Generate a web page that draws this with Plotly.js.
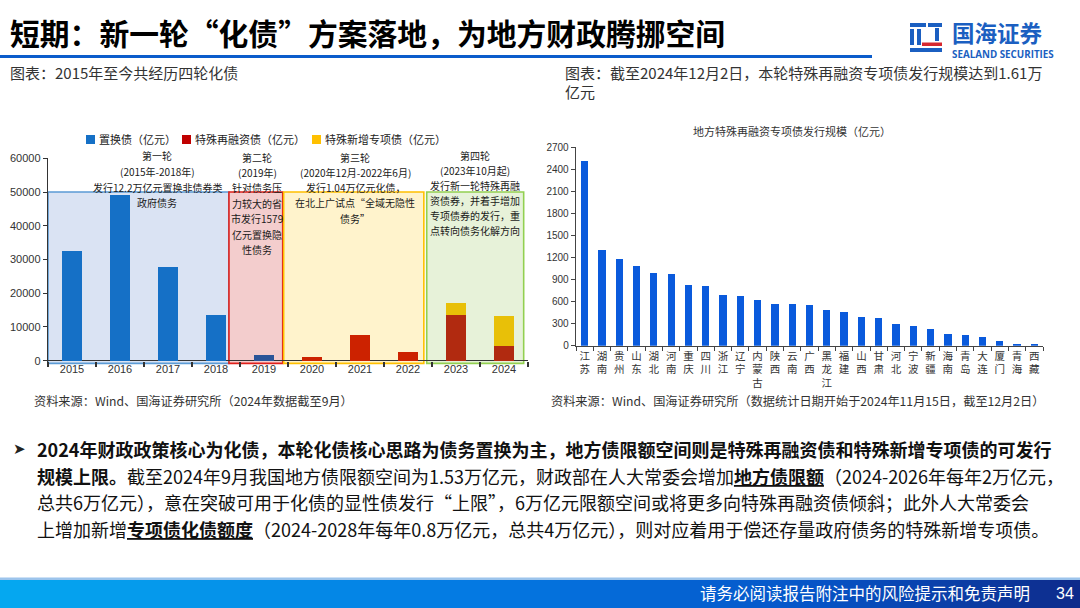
<!DOCTYPE html>
<html><head><meta charset="utf-8">
<script src="https://cdn.plot.ly/plotly-3.0.1.min.js"></script>
<style>html,body{margin:0;padding:0;background:#fff}#chart{width:1080px;height:608px}</style>
</head><body><div id="chart"></div>
<script>
// ---------------- data ----------------
const years = ['2015','2016','2017','2018','2019','2020','2021','2022','2023','2024'];
const swapBond = [32600, 49100, 27800, 13700, 1579, null, null, null, null, null];
const refinBond = [null, null, null, null, null, 1100, 7500, 2500, 13700, 4400];
const newSpecialBond = [null, null, null, null, null, null, null, null, 3300, 9000];
const seriesNames = ['置换债（亿元）', '特殊再融资债（亿元）', '特殊新增专项债（亿元）'];
const leftTicks = [0, 10000, 20000, 30000, 40000, 50000, 60000];

const provinces = ['江苏','湖南','贵州','山东','湖北','河南','重庆','四川','浙江','辽宁','内蒙古','陕西','云南','广西','黑龙江','福建','山西','甘肃','河北','宁波','新疆','海南','青岛','大连','厦门','青海','西藏'];
const refinIssue = [2520, 1300, 1180, 1090, 990, 975, 830, 810, 686, 673, 618, 573, 564, 555, 491, 455, 391, 377, 291, 264, 223, 159, 150, 114, 64, 23, 20];
const rightTicks = [0, 300, 600, 900, 1200, 1500, 1800, 2100, 2400, 2700];

const roundTexts = [
  ['第一轮', '(2015年-2018年)', '发行12.2万亿元置换非债券类', '政府债务'],
  ['第二轮', '(2019年)', '针对债务压', '力较大的省', '市发行1579', '亿元置换隐', '性债务'],
  ['第三轮', '(2020年12月-2022年6月)', '发行1.04万亿元化债，', '在北上广试点“全域无隐性', '债务”'],
  ['第四轮', '(2023年10月起)', '发行新一轮特殊再融', '资债券，并着手增加', '专项债券的发行，重', '点转向债务化解方向']
];

const W = 1080, H = 608;
const px = v => v / W;
const py = v => 1 - v / H;
const CJK = '"Noto Sans CJK SC", "Noto Sans", sans-serif';
const ARIAL = '"Liberation Sans", Arial, sans-serif';

// bar colours (per bar shading as in reference)
const swapColors = ['#1570C6','#1570C6','#1570C6','#1570C6','#2B5598','#1570C6','#1570C6','#1570C6','#1570C6','#1570C6'];
const refinColors = ['#C8200A','#C8200A','#C8200A','#C8200A','#C8200A','#CC2200','#CC2200','#CC2200','#B12A10','#B12A10'];

const traces = [
  {type:'bar', x: years, y: swapBond, name: seriesNames[0], xaxis:'x', yaxis:'y',
   marker:{color: swapColors, line:{width:0}}},
  {type:'bar', x: years, y: refinBond, name: seriesNames[1], xaxis:'x', yaxis:'y',
   marker:{color: refinColors, line:{width:0}}},
  {type:'bar', x: years, y: newSpecialBond, name: seriesNames[2], xaxis:'x', yaxis:'y',
   marker:{color:'#E8C008', line:{width:0}}},
  {type:'bar', x: provinces, y: refinIssue, name:'地方特殊再融资专项债发行规模（亿元）', xaxis:'x2', yaxis:'y2',
   width:0.42, marker:{color:'#0A5ADC', line:{width:0}}}
];

// ---------------- decorations ----------------
const shapes = [];
// blue line under title
shapes.push({type:'rect', xref:'paper', yref:'paper', x0:0, x1:px(872), y0:py(58), y1:py(55), fillcolor:'#0B5CCB', line:{width:0}});
// logo
const logoBlue = '#1B5FC1', logoRed = '#D7282F';
[[910,926,23,27],[910,914,29,45],[917,921,29,45],[928,942,23,27],[935,939,28,41],[910,942,48,52]].forEach(r=>{
  shapes.push({type:'rect', xref:'paper', yref:'paper', x0:px(r[0]), x1:px(r[1]), y0:py(r[3]), y1:py(r[2]), fillcolor:logoBlue, line:{width:0}});
});
shapes.push({type:'rect', xref:'paper', yref:'paper', x0:px(922), x1:px(942), y0:py(46), y1:py(42.5), fillcolor:logoRed, line:{width:0}});

// round boxes on left chart (category index units)
const boxes = [
  {x0:-0.5, x1:3.27, fill:'#DAE3F3', line:'#5B9BD5'},
  {x0:3.27, x1:4.39, fill:'#F3CDCD', line:'#E0201B'},
  {x0:4.41, x1:7.33, fill:'#FFF3CC', line:'#FFC000'},
  {x0:7.39, x1:9.41, fill:'#E7F2D9', line:'#92D050'}
];
boxes.forEach(b=>{
  shapes.push({type:'rect', xref:'x', yref:'y', x0:b.x0, x1:b.x1, y0:-800, y1:50000, fillcolor:b.fill,
    line:{color:b.line, width:1.6}, layer:'below'});
});

// footer gradient strips
function hex(c){return [parseInt(c.slice(1,3),16),parseInt(c.slice(3,5),16),parseInt(c.slice(5,7),16)];}
const stops = [[0,'#05A8F0'],[0.45,'#0478E2'],[0.75,'#0655C8'],[1,'#0E2A8A']];
function grad(t){
  for(let i=0;i<stops.length-1;i++){
    if(t>=stops[i][0] && t<=stops[i+1][0]){
      const f=(t-stops[i][0])/(stops[i+1][0]-stops[i][0]);
      const a=hex(stops[i][1]), b=hex(stops[i+1][1]);
      return 'rgb('+a.map((v,k)=>Math.round(v+(b[k]-v)*f)).join(',')+')';
    }
  }
  return stops[stops.length-1][1];
}
const N = 108;
for(let i=0;i<N;i++){
  shapes.push({type:'rect', xref:'paper', yref:'paper', x0:i/N, x1:Math.min(1,(i+1.3)/N), y0:0, y1:py(579),
    fillcolor:grad((i+0.5)/N), line:{width:0}});
}
shapes.push({type:'rect', xref:'paper', yref:'paper', x0:0, x1:1, y0:py(580), y1:py(577.5), fillcolor:'#9CC4EC', line:{width:0}});

// left chart manual legend squares
const legendSq = [[86,'#1570C6'],[182,'#C00000'],[312,'#FFC000']];
const legendTx = [97, 193, 323];
legendSq.forEach(s=>{
  shapes.push({type:'rect', xref:'paper', yref:'paper', x0:px(s[0]), x1:px(s[0]+9), y0:py(144), y1:py(135), fillcolor:s[1], line:{width:0}});
});

// ---------------- annotations ----------------
const ann = [];
function T(text, x, y, size, opts){
  opts = opts || {};
  ann.push(Object.assign({xref:'paper', yref:'paper', x:px(x), y:py(y), text:text, showarrow:false,
    xanchor: opts.xanchor || 'left', yanchor:'middle', align: opts.align || 'left',
    font:{family: opts.family || CJK, size:size, color: opts.color || '#111', weight: opts.weight || 400}}, opts.extra || {}));
}
T('短期：新一轮“化债”方案落地，为地方财政腾挪空间', 8, 32, 29.8, {weight:700, color:'#000'});
T('国海证券', 950, 32.5, 22.5, {weight:700, color:'#1B5FC1'});
T('SEALAND SECURITIES', 950, 54.5, 9.8, {weight:700, color:'#1B5FC1', family:'"Open Sans", sans-serif'});

T('图表：2015年至今共经历四轮化债', 8, 73, 15, {color:'#333'});
T('图表：截至2024年12月2日，本轮特殊再融资专项债发行规模达到1.61万', 563, 73, 15, {color:'#333'});
T('亿元', 563, 92, 15, {color:'#333'});

// legend texts
seriesNames.forEach((n,i)=> T(n, legendTx[i], 139.5, 11, {color:'#222'}));

// round texts
const roundCenters = [157, 257, 355, 475];
const roundStart = [156, 157, 157, 155.5];
const roundStep = [15.5, 15.4, 15.3, 15.0];
roundTexts.forEach((lines,r)=>{
  lines.forEach((l,i)=> T(l, roundCenters[r], roundStart[r]+i*roundStep[r], 10, {xanchor:'center', color:'#1a1a1a'}));
});

T('地方特殊再融资专项债发行规模（亿元）', 792, 131, 11, {xanchor:'center', color:'#333'});

T('资料来源：Wind、国海证券研究所（2024年数据截至9月）', 32, 401, 12.2, {color:'#333'});
T('资料来源：Wind、国海证券研究所（数据统计日期开始于2024年11月15日，截至12月2日）', 549, 401, 12.2, {color:'#333'});

// bullet paragraph
T('➤', 11, 449, 15, {family:'"DejaVu Sans", sans-serif', color:'#222'});
const para = [
  '<b>2024年财政政策核心为化债，本轮化债核心思路为债务置换为主，地方债限额空间则是特殊再融资债和特殊新增专项债的可发行</b>',
  '<b>规模上限。</b>截至2024年9月我国地方债限额空间为1.53万亿元，财政部在人大常委会增加<b><u>地方债限额</u></b>（2024-2026年每年2万亿元，',
  '总共6万亿元），意在突破可用于化债的显性债发行“上限”，6万亿元限额空间或将更多向特殊再融资债倾斜；此外人大常委会',
  '上增加新增<b><u>专项债化债额度</u></b>（2024-2028年每年0.8万亿元，总共4万亿元），则对应着用于偿还存量政府债务的特殊新增专项债。'
];
const paraY = [449, 476, 502, 529];
para.forEach((p,i)=> T(p, 35, paraY[i], 18, {color:'#111'}));

T('请务必阅读报告附注中的风险提示和免责声明', 1032, 593, 16.5, {xanchor:'right', color:'#fff'});
T('34', 1054, 593, 16, {color:'#fff', family:ARIAL});

// ---------------- layout ----------------
const layout = {
  width: W, height: H,
  margin:{l:0, r:0, t:0, b:0, pad:0},
  paper_bgcolor:'#ffffff', plot_bgcolor:'rgba(0,0,0,0)',
  showlegend:false,
  barmode:'stack',
  bargap:0.57,
  xaxis:{domain:[px(48), px(528)], type:'category', range:[-0.5, 9.5], anchor:'free', position: py(360.7),
    showline:false, ticks:'outside', tickson:'boundaries', ticklen:5, tickcolor:'#333', tickwidth:1.2,
    tickangle:0, tickfont:{family:ARIAL, size:11, color:'#333'}, showgrid:false, zeroline:false, fixedrange:true},
  yaxis:{domain:[py(365.1), py(158.3)], range:[-1300, 60000], anchor:'x', tickvals:leftTicks, tickformat:'d',
    showline:true, linecolor:'#333', linewidth:1.3, ticks:'outside', ticklen:4, tickcolor:'#333',
    tickfont:{family:ARIAL, size:11, color:'#333'}, showgrid:false,
    zeroline:true, zerolinecolor:'#333', zerolinewidth:1.5, fixedrange:true},
  xaxis2:{domain:[px(576), px(1043)], type:'category', range:[-0.5, 26.5], anchor:'y2',
    showline:true, linecolor:'#444', linewidth:1.3, ticks:'outside', tickson:'boundaries', ticklen:4, tickcolor:'#444',
    tickangle:0, tickvals: provinces, ticktext: provinces.map(p=>p.split('').join('<br>')),
    tickfont:{family:CJK, size:10.5, color:'#333'}, showgrid:false, zeroline:false, fixedrange:true},
  yaxis2:{domain:[py(345.7), py(147.3)], range:[0, 2700], anchor:'x2', tickvals:rightTicks, tickformat:'d',
    showline:true, linecolor:'#444', linewidth:1.3, ticks:'outside', ticklen:4, tickcolor:'#444',
    tickfont:{family:ARIAL, size:10, color:'#333'}, showgrid:false, zeroline:false, fixedrange:true},
  shapes: shapes,
  annotations: ann
};

Plotly.newPlot('chart', traces, layout, {displayModeBar:false, staticPlot:true});
</script>
</body></html>
